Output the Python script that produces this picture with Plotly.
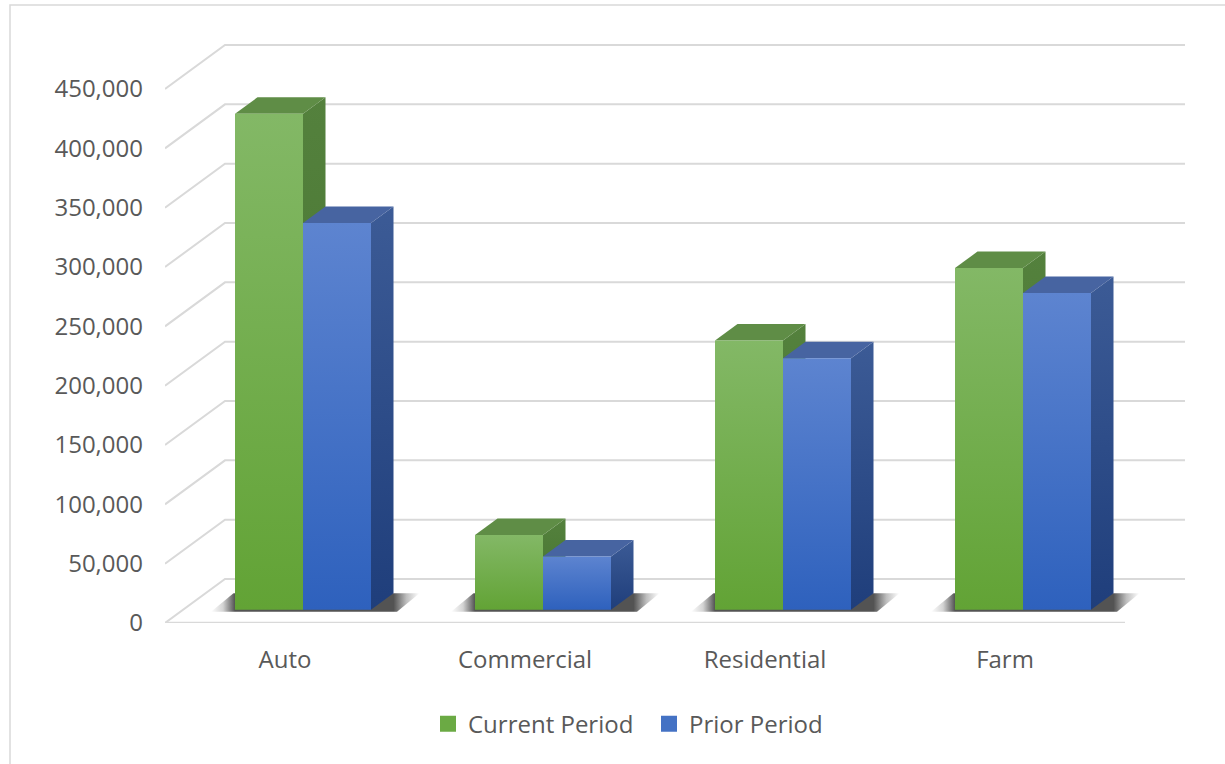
import plotly.graph_objects as go

# ---------------- data ----------------
categories = ["Auto", "Commercial", "Residential", "Farm"]
current_period = [418000, 63000, 227000, 288000]
prior_period = [326000, 45000, 212000, 267000]
series_names = ["Current Period", "Prior Period"]
y_ticks = [0, 50000, 100000, 150000, 200000, 250000, 300000, 350000, 400000, 450000]

# ---------------- geometry / style ----------------
W, H = 1225, 764
M_L, M_R, M_T, M_B = 165, 40, 30, 141
PLOT_W = W - M_L - M_R
PLOT_H = H - M_T - M_B
PX_PER_VAL = 59.33 / 50000.0
PX_PER_CAT = 240.0
DX = 60.0 / PX_PER_CAT          # full depth shift (x, data units)
DY = 44.0 / PX_PER_VAL          # full depth shift (y, data units)
F_FRONT, F_BACK = 0.30, 0.675
BAR_W = 68.0 / PX_PER_CAT
X0 = -0.5
X_MAX = X0 + PLOT_W / PX_PER_CAT
Y_MAX = PLOT_H / PX_PER_VAL

FONT = "Open Sans"
FS = 24
TXT = "#595959"
GRID = "#D9D9D9"

STYLE = [
    dict(front=("#62A335", "#83B866"), top="#5F8D46", side=("#44722E", "#54813D"), legend="#6BAA44"),
    dict(front=("#2E61BD", "#5D84D0"), top="#4764A1", side=("#1F3E7B", "#3C5B96"), legend="#4472C4"),
]


def proj(u, v, f):
    return u + DX * f, v + DY * f


def poly(pts):
    xs = [p[0] for p in pts] + [pts[0][0]]
    ys = [p[1] for p in pts] + [pts[0][1]]
    return xs, ys


fig = go.Figure()


def add_face(pts, color=None, grad=None, gtype="vertical"):
    xs, ys = poly(pts)
    kw = dict(x=xs, y=ys, mode="lines", fill="toself", line=dict(width=0),
              hoverinfo="skip", showlegend=False)
    if grad is not None:
        kw["fillgradient"] = dict(type=gtype, colorscale=grad)
    else:
        kw["fillcolor"] = color
    fig.add_trace(go.Scatter(**kw))


series_values = [current_period, prior_period]

# soft shadows on the floor
E_L, E_R = 24.0, 26.0      # px
depth_px = DX * (F_BACK - F_FRONT) * PX_PER_CAT
group_px = 2 * BAR_W * PX_PER_CAT
total_px = E_L + group_px + depth_px + E_R
s1 = E_L / total_px
s2 = (E_L + group_px + depth_px) / total_px
shadow_scale = [[0, "rgba(40,40,40,0)"], [s1 * 0.5, "rgba(40,40,40,0.2)"],
                [s1, "rgba(40,40,40,0.8)"], [s2, "rgba(40,40,40,0.8)"],
                [s2 + (1 - s2) * 0.5, "rgba(40,40,40,0.3)"], [1, "rgba(40,40,40,0)"]]
for i, _ in enumerate(categories):
    left = i - BAR_W - E_L / PX_PER_CAT
    right = i + BAR_W + E_R / PX_PER_CAT
    lo = -2.0 / PX_PER_VAL
    pts = [proj(left, lo, F_FRONT), proj(right, lo, F_FRONT),
           proj(right, 0, F_BACK), proj(left, 0, F_BACK)]
    add_face(pts, grad=shadow_scale, gtype="horizontal")

# bars (3D boxes), drawn back to front: green then blue per category
for i, _ in enumerate(categories):
    for s, vals in enumerate(series_values):
        v = vals[i]
        l = i - BAR_W + s * BAR_W
        r = l + BAR_W
        st = STYLE[s]
        side = [proj(r, 0, F_FRONT), proj(r, v, F_FRONT), proj(r, v, F_BACK), proj(r, 0, F_BACK)]
        add_face(side, grad=[[0, st["side"][0]], [1, st["side"][1]]])
        top = [proj(l, v, F_FRONT), proj(r, v, F_FRONT), proj(r, v, F_BACK), proj(l, v, F_BACK)]
        add_face(top, color=st["top"])
        front = [proj(l, 0, F_FRONT), proj(r, 0, F_FRONT), proj(r, v, F_FRONT), proj(l, v, F_FRONT)]
        add_face(front, grad=[[0, st["front"][0]], [1, st["front"][1]]])

# legend entries
for s, name in enumerate(series_names):
    fig.add_trace(go.Scatter(x=[None], y=[None], mode="markers", name=name,
                             marker=dict(symbol="square", size=16, color=STYLE[s]["legend"]),
                             hoverinfo="skip"))

# gridlines (left wall + back wall) and floor front edge
shapes = []
for t in y_ticks:
    a = proj(X0, t, 0)
    b = proj(X0, t, 1)
    c = (X_MAX, t + DY)
    shapes.append(dict(type="path", xref="x", yref="y", layer="below",
                       path=f"M {a[0]},{a[1]} L {b[0]},{b[1]} L {c[0]},{c[1]}",
                       line=dict(color=GRID, width=2)))
shapes.append(dict(type="line", xref="x", yref="y", layer="below",
                   x0=X0, y0=0, x1=X0 + len(categories), y1=0,
                   line=dict(color=GRID, width=2.5)))
# chart border
px2paper_x = lambda px: (px - M_L) / PLOT_W
px2paper_y = lambda py: (H - M_B - py) / PLOT_H
shapes.append(dict(type="rect", xref="paper", yref="paper", layer="below",
                   x0=px2paper_x(10), x1=px2paper_x(1300), y0=px2paper_y(800), y1=px2paper_y(5),
                   line=dict(color="#D9D9D9", width=1.5), fillcolor="rgba(0,0,0,0)"))

fig.update_layout(
    width=W, height=H,
    margin=dict(l=M_L, r=M_R, t=M_T, b=M_B, autoexpand=False),
    plot_bgcolor="white", paper_bgcolor="white",
    shapes=shapes,
    font=dict(family=FONT, color=TXT, size=FS),
    xaxis=dict(range=[X0, X_MAX], tickmode="array", tickvals=list(range(len(categories))),
               ticktext=categories, showgrid=False, zeroline=False, showline=False,
               ticks="", ticklabelstandoff=20, tickfont=dict(family=FONT, size=FS, color=TXT),
               fixedrange=True),
    yaxis=dict(range=[0, Y_MAX], tickmode="array", tickvals=y_ticks, tickformat=",",
               showgrid=False, zeroline=False, showline=False, ticks="",
               ticklabelstandoff=21, tickfont=dict(family=FONT, size=FS, color=TXT),
               fixedrange=True),
    showlegend=True,
    legend=dict(orientation="h", xref="container", yref="container", x=428 / W, xanchor="left",
                y=0.052, yanchor="middle", font=dict(family=FONT, size=FS, color=TXT),
                itemwidth=30, entrywidth=176, entrywidthmode="pixels",
                traceorder="normal", bgcolor="rgba(0,0,0,0)"),
)

fig.write_html("out.html")
